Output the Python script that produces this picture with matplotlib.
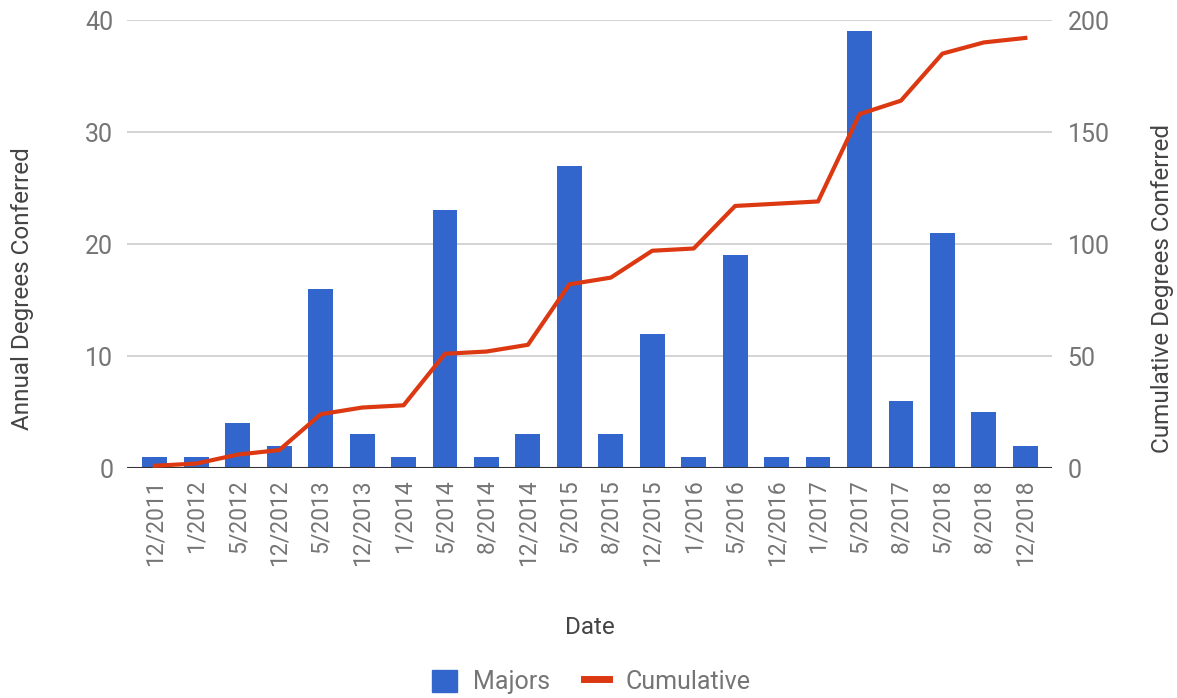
import matplotlib.pyplot as plt
from matplotlib.patches import Patch
from matplotlib.lines import Line2D

plt.rcParams['font.family'] = ['Roboto', 'DejaVu Sans']

# data
dates = ['12/2011', '1/2012', '5/2012', '12/2012', '5/2013', '12/2013', '1/2014',
         '5/2014', '8/2014', '12/2014', '5/2015', '8/2015', '12/2015', '1/2016',
         '5/2016', '12/2016', '1/2017', '5/2017', '8/2017', '5/2018', '8/2018',
         '12/2018']
majors = [1, 1, 4, 2, 16, 3, 1, 23, 1, 3, 27, 3, 12, 1, 19, 1, 1, 39, 6, 21, 5, 2]
cumulative = [1, 2, 6, 8, 24, 27, 28, 51, 52, 55, 82, 85, 97, 98, 117, 118, 119,
              158, 164, 185, 190, 192]

blue = '#3366cc'
red = '#dc3912'
tick_col = '#757575'
title_col = '#444444'

fig = plt.figure(figsize=(11.77, 6.98), dpi=100)
ax = fig.add_axes([0.108, 0.3295, 0.786, 0.6418])
ax2 = ax.twinx()

x = list(range(len(dates)))
ax.bar(x, majors, width=0.6, color=blue, zorder=2)
ax2.plot(x, cumulative, color=red, lw=3, zorder=3)

ax.set_xlim(-0.67, len(dates) - 0.35)
ax.set_ylim(0, 40)
ax2.set_ylim(0, 200)
ax.set_yticks([0, 10, 20, 30, 40])
ax2.set_yticks([0, 50, 100, 150, 200])
ax.grid(axis='y', color='#cccccc', lw=1.2, zorder=0)
ax.axhline(0, color='#333333', lw=1.5, zorder=4)
ax.set_axisbelow(True)

for a in (ax, ax2):
    for s in a.spines.values():
        s.set_visible(False)
    a.tick_params(length=0, labelcolor=tick_col)

ax.tick_params(axis='y', labelsize=18, pad=10)
ax2.tick_params(axis='y', labelsize=18, pad=11)
ax.set_xticks(x)
ax.set_xticklabels(dates, rotation=90)
ax.tick_params(axis='x', labelsize=16.5, pad=8)

ax.set_ylabel('Annual Degrees Conferred', fontsize=17.5, color=title_col)
ax2.set_ylabel('Cumulative Degrees Conferred', fontsize=17.5, color=title_col)
ax.yaxis.set_label_coords(-0.101, 0.40)
ax2.yaxis.set_label_coords(1.107, 0.40)
ax.set_xlabel('Date', fontsize=17.5, color=title_col, labelpad=36)

handles = [Patch(facecolor=blue, edgecolor=blue),
           Line2D([0], [0], color=red, lw=5)]
fig.legend(handles, ['Majors', 'Cumulative'], loc='center', bbox_to_anchor=(0.502, 0.023),
           ncol=2, frameon=False, fontsize=18, labelcolor=tick_col,
           handlelength=1.0, handleheight=1.0, columnspacing=1.35, handletextpad=0.65)

fig.savefig('out.png', dpi=100)
